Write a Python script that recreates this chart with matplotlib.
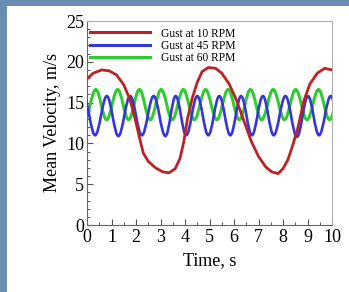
import matplotlib
matplotlib.use("Agg")
import matplotlib.pyplot as plt
from matplotlib.path import Path
from matplotlib.patches import PathPatch, Rectangle
from matplotlib.lines import Line2D
from matplotlib.ticker import MultipleLocator

# ---- data ----
red_t = [0.0, 0.25, 0.6, 0.9, 1.2, 1.5, 1.75, 1.95, 2.15, 2.3, 2.5, 2.8, 3.1, 3.35, 3.6, 3.8,
         3.95, 4.1, 4.3, 4.5, 4.7, 4.95, 5.25, 5.5, 5.8, 6.1, 6.4, 6.7, 7.0, 7.3, 7.55, 7.8,
         8.0, 8.2, 8.4, 8.6, 8.85, 9.1, 9.4, 9.7, 10.0]
red_v = [17.9, 18.6, 19.0, 18.9, 18.4, 17.2, 15.4, 13.2, 10.6, 8.8, 7.8, 7.0, 6.5, 6.4, 6.9, 8.2,
         10.2, 13.0, 15.6, 17.5, 18.8, 19.3, 19.2, 18.6, 17.3, 15.3, 12.8, 10.3, 8.4, 7.1, 6.5, 6.3,
         6.9, 8.0, 9.8, 11.8, 15.2, 17.3, 18.6, 19.2, 19.0]

# extrema (peaks / troughs) of the two fast gusts
blue_t = [-0.14, 0.33, 0.81, 1.28, 1.76, 2.24, 2.72, 3.20, 3.62, 4.05, 4.50, 4.95,
          5.40, 5.85, 6.29, 6.73, 7.18, 7.62, 8.10, 8.57, 9.02, 9.47, 9.95, 10.4]
blue_v = [15.8, 11.0, 15.8, 10.9, 15.8, 11.0, 15.8, 10.9, 15.8, 11.0, 15.8, 11.0,
          15.8, 11.0, 15.8, 11.0, 15.8, 11.0, 15.8, 10.8, 15.8, 11.0, 15.8, 11.0]

green_t = [-0.10, 0.36, 0.80, 1.25, 1.70, 2.14, 2.58, 3.03, 3.48, 3.93, 4.38, 4.84,
           5.30, 5.76, 6.22, 6.67, 7.13, 7.60, 8.06, 8.52, 8.98, 9.45, 9.90, 10.35]
green_v = [12.9, 16.6, 12.9, 16.6, 12.9, 16.6, 12.9, 16.6, 12.9, 16.6, 12.9, 16.6,
           12.9, 16.6, 12.9, 16.6, 12.9, 16.6, 12.9, 16.6, 12.9, 16.6, 12.9, 16.6]

labels = ["Gust at 10 RPM", "Gust at 45 RPM", "Gust at 60 RPM"]
colors = ["#bb2226", "#3535d8", "#2fcc2f"]

x_ticks = list(range(0, 11))
y_ticks = [0, 5, 10, 15, 20, 25]

plt.rcParams['font.family'] = ['Liberation Serif', 'DejaVu Serif']

fig = plt.figure(figsize=(3.49, 2.92), dpi=100)
fig.patch.set_facecolor("white")
# blue frame of the screenshot
fig.patches.append(Rectangle((0, 0), 7 / 349, 1, transform=fig.transFigure,
                             facecolor="#6b8db4", edgecolor="none", zorder=0))
fig.patches.append(Rectangle((0, 1 - 6 / 292), 1, 6 / 292, transform=fig.transFigure,
                             facecolor="#6b8db4", edgecolor="none", zorder=0))

ax = fig.add_axes([87 / 349, 1 - 225 / 292, 245 / 349, 204 / 292])


def smooth_path(ts, vs):
    verts = [(ts[0], vs[0])]
    codes = [Path.MOVETO]
    for i in range(len(ts) - 1):
        t0, v0, t1, v1 = ts[i], vs[i], ts[i + 1], vs[i + 1]
        d = (t1 - t0) * 0.364
        verts += [(t0 + d, v0), (t1 - d, v1), (t1, v1)]
        codes += [Path.CURVE4] * 3
    return Path(verts, codes)


ax.add_patch(PathPatch(smooth_path(green_t, green_v), facecolor="none",
                       edgecolor=colors[2], lw=2.2, zorder=2))
ax.add_patch(PathPatch(smooth_path(blue_t, blue_v), facecolor="none",
                       edgecolor=colors[1], lw=1.9, zorder=3))
ax.plot(red_t, red_v, color=colors[0], lw=2.0, zorder=4, solid_joinstyle="round")

ax.set_xlim(0, 10)
ax.set_ylim(0, 25)
ax.set_xticks(x_ticks)
ax.set_yticks(y_ticks)
ax.xaxis.set_minor_locator(MultipleLocator(0.5))
ax.yaxis.set_minor_locator(MultipleLocator(1))
ax.tick_params(which="major", direction="in", length=4, width=0.8, labelsize=13,
               color="#555555", pad=2)
ax.tick_params(which="minor", direction="in", length=2.5, width=0.7, color="#555555")
ax.tick_params(axis="x", pad=3)
for s in ["left", "bottom"]:
    ax.spines[s].set_color("#666666")
for s in ["top", "right"]:
    ax.spines[s].set_color("#b0b0b0")
ax.set_xlabel("Time, s", fontsize=13, labelpad=4)
ax.set_ylabel("Mean Velocity, m/s", fontsize=13, labelpad=4)

handles = [Line2D([], [], color=c, lw=2.2) for c in colors]
ax.legend(handles, labels, loc="upper left", frameon=False, fontsize=8.3,
          handlelength=5.2, handletextpad=0.9, labelspacing=0.02,
          borderaxespad=0.0, borderpad=0.3,
          bbox_to_anchor=(0.0, 0.985))

fig.savefig("out.png", dpi=100)
